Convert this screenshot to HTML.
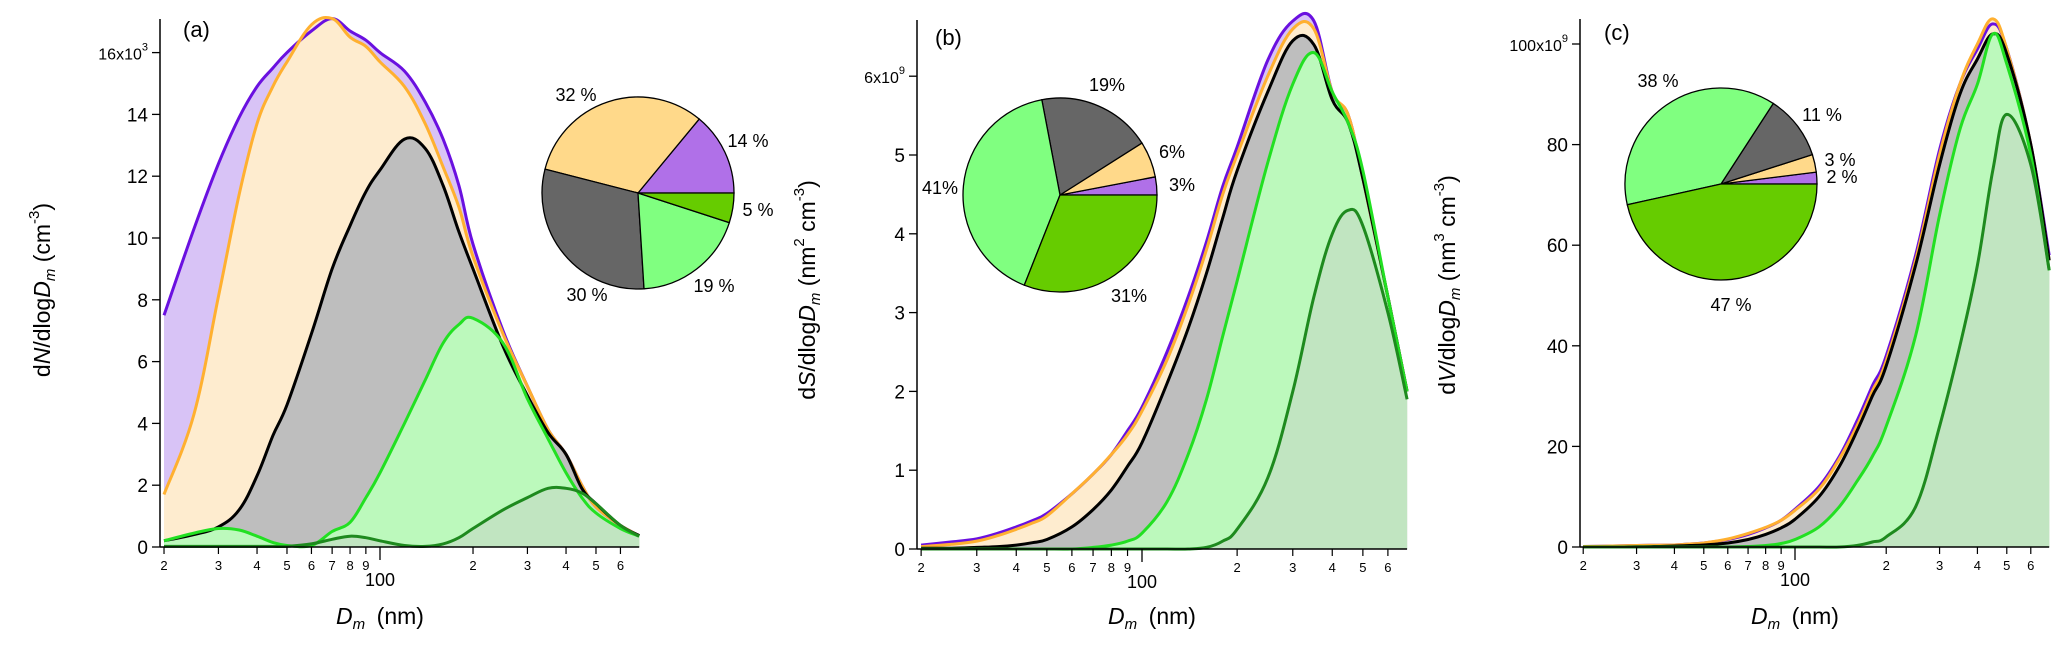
<!DOCTYPE html>
<html><head><meta charset="utf-8"><style>
body{margin:0;background:#fff}
svg{display:block;font-family:"Liberation Sans",sans-serif}
</style></head><body>
<svg id="c" width="2067" height="648" viewBox="0 0 2067 648"></svg>
<script>
const diam=[20,25,30,35,40,45,50,60,70,80,90,100,120,140,160,180,200,250,300,350,400,450,500,600,690];
// panel a (x10^3 cm^-3)
const aPurple=[7.5,10.3,12.4,13.9,14.9,15.5,16.0,16.7,17.1,16.7,16.4,16.0,15.4,14.4,13.2,11.7,9.8,7.0,5.2,3.8,3.0,2.0,1.3,0.7,0.37];
const aOrange=[1.7,4.3,8.1,11.4,13.7,14.9,15.7,16.9,17.1,16.5,16.2,15.7,14.9,13.7,12.3,11.0,9.4,6.9,5.2,3.8,3.0,2.0,1.3,0.7,0.37];
const aBlack=[0.2,0.4,0.65,1.2,2.3,3.6,4.6,6.9,9.0,10.4,11.5,12.2,13.2,12.9,11.7,10.2,9.0,6.5,4.9,3.7,3.0,1.9,1.4,0.7,0.37];
const aLime=[0.2,0.45,0.6,0.55,0.35,0.15,0.05,0.05,0.5,0.8,1.6,2.4,4.0,5.4,6.6,7.2,7.4,6.6,4.8,3.5,2.4,1.6,1.1,0.6,0.35];
const aDark=[0.02,0.02,0.02,0.02,0.02,0.02,0.02,0.1,0.25,0.35,0.3,0.2,0.05,0.02,0.1,0.3,0.6,1.2,1.6,1.9,1.9,1.75,1.4,0.7,0.35];
// panel b (x10^9 nm^2 cm^-3)
const bPurple=[0.05,0.09,0.13,0.2,0.28,0.36,0.45,0.7,0.95,1.2,1.5,1.8,2.5,3.2,3.9,4.6,5.1,6.2,6.7,6.7,5.8,5.5,4.7,3.2,2.0];
const bOrange=[0.03,0.06,0.1,0.17,0.25,0.33,0.42,0.7,0.95,1.2,1.45,1.75,2.4,3.1,3.8,4.5,5.0,6.0,6.6,6.6,5.8,5.5,4.7,3.2,2.0];
const bBlack=[0.01,0.01,0.02,0.03,0.05,0.08,0.12,0.28,0.5,0.75,1.05,1.35,2.1,2.8,3.5,4.2,4.8,5.8,6.45,6.4,5.7,5.4,4.7,3.2,2.0];
const bLime=[0,0,0,0,0,0,0,0,0.02,0.05,0.1,0.2,0.6,1.2,1.9,2.7,3.4,4.9,5.9,6.3,5.8,5.4,4.8,3.2,2.0];
const bDark=[0,0,0,0,0,0,0,0,0,0,0,0,0,0,0.02,0.1,0.25,0.9,2.0,3.2,4.0,4.3,4.1,3.0,1.9];
// panel c (x10^9 nm^3 cm^-3)
const cPurple=[0.1,0.2,0.3,0.35,0.4,0.6,0.8,1.5,2.5,3.8,5.3,7.5,12,18,25,32,38,58,79,92,99,104,99,80,58];
const cOrange=[0.1,0.2,0.3,0.35,0.4,0.6,0.8,1.6,2.7,3.9,5.3,7.3,11.5,17.5,24,31,37,57,78,92,100,105,99,80,57];
const cBlack=[0,0,0.05,0.1,0.2,0.3,0.4,0.8,1.5,2.5,3.8,5.5,10,16,23,30,36,56,76,90,97,102,98,80,57];
const cLime=[0,0,0,0,0,0,0,0,0.1,0.3,0.7,1.5,4,8,13,18,24,42,66,83,92,102,96,78,55];
const cDark=[0,0,0,0,0,0,0,0,0,0,0,0,0,0,0.3,1,2,8,24,40,56,75,86,76,55];
// pies
const aPie=[14,32,30,19,5];
const bPie=[3,6,19,41,31];
const cPie=[2,3,11,38,47];
const aPieLabels=["14 %","32 %","30 %","19 %","5 %"];
const bPieLabels=["3%","6%","19%","41%","31%"];
const cPieLabels=["2 %","3 %","11 %","38 %","47 %"];
const aTicks=[0,2,4,6,8,10,12,14,16];
const bTicks=[0,1,2,3,4,5,6];
const cTicks=[0,20,40,60,80,100];
const xMinor=[20,30,40,50,60,70,80,90,200,300,400,500,600];

const NS="http://www.w3.org/2000/svg";
const svg=document.getElementById('c');
function mk(tag,attrs,parent,text){const e=document.createElementNS(NS,tag);for(const k in attrs)e.setAttribute(k,attrs[k]);if(text!==undefined)e.textContent=text;(parent||svg).appendChild(e);return e;}

const lineCols=['#6a10e0','#ffb030','#000','#22e022','#1e8a1e'];
const fillCols=['#d8c3f6','#feeccf','#bebebe','#bcf9bc','#c1e5c1'];
const pieCols=['#b070e8','#ffd98a','#666666','#80ff80','#66cc00'];
const seriesNames=['purple','orange','black','lime','dark-green'];

function smooth(pts){
  let d='M'+pts[0][0].toFixed(1)+','+pts[0][1].toFixed(1);
  for(let i=0;i<pts.length-1;i++){
    const p0=pts[Math.max(i-1,0)],p1=pts[i],p2=pts[i+1],p3=pts[Math.min(i+2,pts.length-1)];
    const t=0.18;
    const c1=[p1[0]+(p2[0]-p0[0])*t,p1[1]+(p2[1]-p0[1])*t];
    const c2=[p2[0]-(p3[0]-p1[0])*t,p2[1]-(p3[1]-p1[1])*t];
    d+=`C${c1[0].toFixed(1)},${c1[1].toFixed(1)} ${c2[0].toFixed(1)},${c2[1].toFixed(1)} ${p2[0].toFixed(1)},${p2[1].toFixed(1)}`;
  }
  return d;
}

function panel(o){
  const g=mk('g',{});
  
  
  const X=d=>o.x100+Math.log10(d/100)*o.dec;
  const Y=v=>o.y0-v*o.ppu;
  const xr=X(690);
  o.series.forEach((s,i)=>{
    const pts=s.map((v,j)=>[X(diam[j]),Y(v)]);
    const d=smooth(pts)+'L'+X(diam[diam.length-1])+','+o.y0+'L'+X(diam[0])+','+o.y0+'Z';
    const f=mk('path',{d:d,fill:fillCols[i],stroke:'none'},g);
    
    
  });
  o.series.forEach((s,i)=>{
    const pts=s.map((v,j)=>[X(diam[j]),Y(v)]);
    const l=mk('path',{d:smooth(pts),fill:'none',stroke:lineCols[i],'stroke-width':3,'stroke-linejoin':'round'},g);
    
    
  });
  const ax=o.axX;
  const ya=mk('line',{x1:ax,y1:o.top,x2:ax,y2:o.y0,stroke:'#000','stroke-width':1.5},g);
  
  const xa=mk('line',{x1:ax,y1:o.y0,x2:xr,y2:o.y0,stroke:'#000','stroke-width':1.5},g);
  
  o.ticks.forEach((t,k)=>{
    const y=Y(t);
    mk('line',{x1:ax-8,y1:y,x2:ax,y2:y,stroke:'#000','stroke-width':1.3},g);
    const tx=mk('text',{x:ax-12,y:y+7,'text-anchor':'end','font-size':k===o.ticks.length-1?16:19},g);
    
    if(k===o.ticks.length-1){
      tx.textContent=t+'x10';
      mk('tspan',{dy:-9,'font-size':11},tx,o.exp);
    } else tx.textContent=t;
  });
  xMinor.forEach(d=>{
    const x=X(d);
    mk('line',{x1:x,y1:o.y0,x2:x,y2:o.y0+7,stroke:'#000','stroke-width':1.2},g);
    const tx=mk('text',{x:x,y:o.y0+23,'text-anchor':'middle','font-size':13},g,String(d/(d<100?10:100)));
    
  });
  mk('line',{x1:X(100),y1:o.y0,x2:X(100),y2:o.y0+13,stroke:'#000','stroke-width':1.3},g);
  const h=mk('text',{x:X(100),y:o.y0+39,'text-anchor':'middle','font-size':18},g,'100');
  
  const xt=mk('text',{x:X(100)+o.xtOff,y:624,'text-anchor':'middle','font-size':23},g);
  
  mk('tspan',{'font-style':'italic'},xt,'D');
  mk('tspan',{'font-style':'italic','font-size':15,dy:5},xt,'m');
  mk('tspan',{dy:-5},xt,'\u2002(nm)');
  const yt=mk('text',{transform:`translate(${o.ytX},${o.ytY}) rotate(-90)`,'text-anchor':'middle','font-size':23},g);
  
  mk('tspan',{},yt,'d');mk('tspan',{'font-style':'italic'},yt,o.q);mk('tspan',{},yt,'/dlog');
  mk('tspan',{'font-style':'italic'},yt,'D');mk('tspan',{'font-style':'italic','font-size':15,dy:5},yt,'m');
  mk('tspan',{dy:-5},yt,' ('+o.unit);
  if(o.up){mk('tspan',{dy:-11,'font-size':15},yt,o.up);mk('tspan',{dy:11},yt,' cm');}
  mk('tspan',{dy:-11,'font-size':15},yt,'-3');mk('tspan',{dy:11},yt,')');
  const pl=mk('text',{x:o.plX,y:o.plY,'font-size':22},g,'('+o.id+')');
  
  const tot=o.pie.reduce((a,b)=>a+b,0);
  let a0=0;
  o.pie.forEach((v,i)=>{
    const a1=a0+v/tot*2*Math.PI;
    const x0=o.px+o.r*Math.cos(a0),y0=o.py-o.r*Math.sin(a0);
    const x1=o.px+o.r*Math.cos(a1),y1=o.py-o.r*Math.sin(a1);
    const large=(a1-a0)>Math.PI?1:0;
    const s=mk('path',{d:`M${o.px},${o.py}L${x0},${y0}A${o.r},${o.r} 0 ${large} 0 ${x1},${y1}Z`,fill:pieCols[i],stroke:'#000','stroke-width':1.3},g);
    
    
    const lb=mk('text',{x:o.lp[i][0],y:o.lp[i][1],'text-anchor':'middle','font-size':18},g,o.pl[i]);
    
    
    a0=a1;
  });
}

panel({id:'a',x100:380,dec:309,y0:547,ppu:30.9,top:19,axX:160,ticks:aTicks,exp:'3',series:[aPurple,aOrange,aBlack,aLime,aDark],
  xtOff:0,ytX:50,ytY:290,q:'N',unit:'cm',up:null,plX:183,plY:37,
  pie:aPie,pl:aPieLabels,px:638,py:193,r:96,lp:[[748,147],[576,101],[587,301],[714,292],[758,216]]});
panel({id:'b',x100:1142,dec:316,y0:549,ppu:78.8,top:20,axX:917,ticks:bTicks,exp:'9',series:[bPurple,bOrange,bBlack,bLime,bDark],
  xtOff:10,ytX:815,ytY:290,q:'S',unit:'nm',up:'2',plX:935,plY:45,
  pie:bPie,pl:bPieLabels,px:1060,py:195,r:97,lp:[[1182,191],[1172,158],[1107,91],[940,194],[1129,302]]});
panel({id:'c',x100:1795,dec:303,y0:547,ppu:5.03,top:19,axX:1580,ticks:cTicks,exp:'9',series:[cPurple,cOrange,cBlack,cLime,cDark],
  xtOff:0,ytX:1455,ytY:285,q:'V',unit:'nm',up:'3',plX:1604,plY:40,
  pie:cPie,pl:cPieLabels,px:1721,py:184,r:96,lp:[[1842,183],[1840,166],[1822,121],[1658,87],[1731,311]]});
</script>
</body></html>
